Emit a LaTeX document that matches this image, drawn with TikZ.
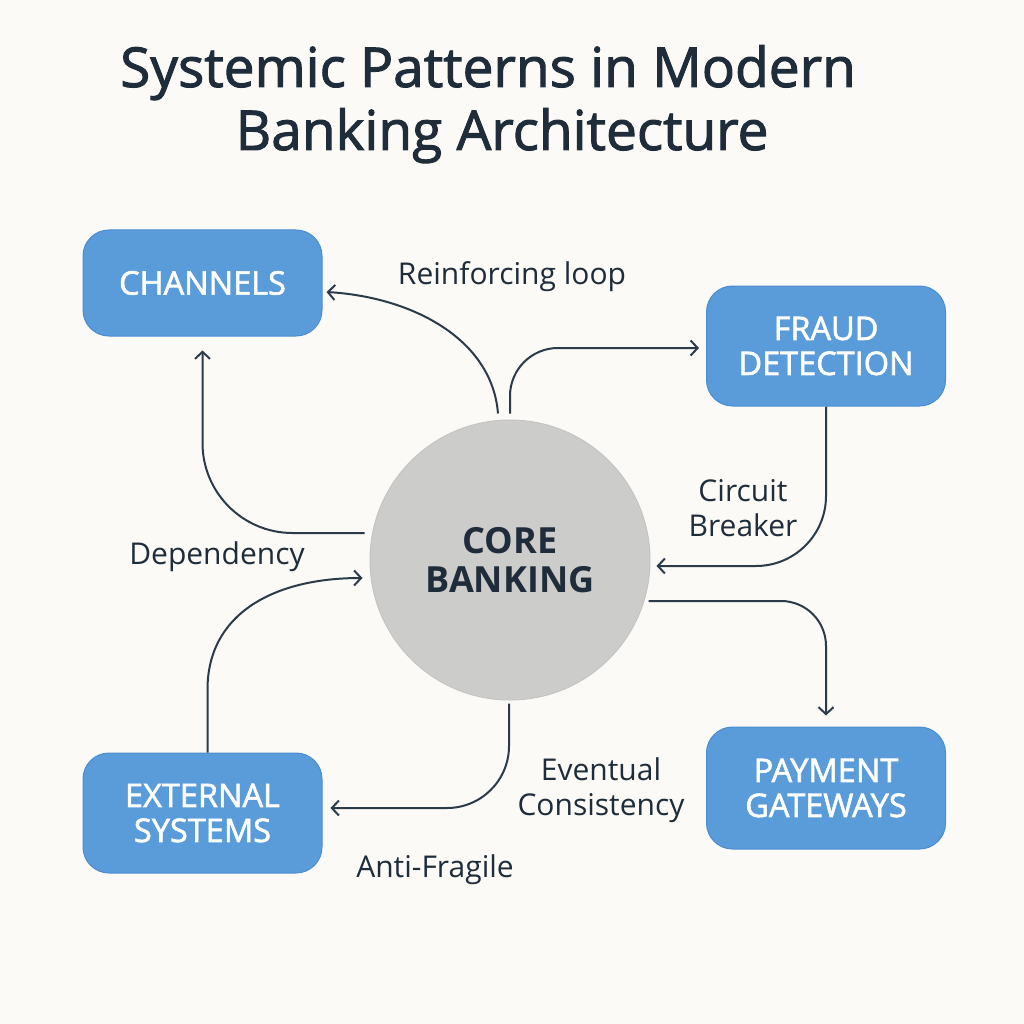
\documentclass[tikz,border=0pt]{standalone}
\usepackage{fontspec}
\setmainfont{Open Sans}
\newfontfamily\medfont{Open Sans}[FakeBold=1.8]
\newfontfamily\ttlfont{Open Sans}[FakeBold=1.8]
\usetikzlibrary{arrows.meta,calc}
\definecolor{bg}{HTML}{FBFAF6}
\definecolor{boxblue}{HTML}{5A9BDA}
\definecolor{boxedge}{HTML}{4A8DD2}
\definecolor{coregray}{HTML}{CCCCCB}
\definecolor{coreedge}{HTML}{C4C4C3}
\definecolor{ink}{HTML}{1F2D3A}
\definecolor{arrowc}{HTML}{2C3B4A}
\tikzset{
  box/.style={draw=boxedge, line width=1pt, fill=boxblue, rounded corners=26pt,
    minimum width=239pt, minimum height=120pt, align=center, text=white,
    font=\fontsize{32.5}{35}\medfont},
  corenode/.style={circle, draw=coreedge, line width=1pt, fill=coregray, minimum size=280pt,
    align=center, text=ink, font=\fontsize{36}{39}\selectfont\bfseries},
  lbl/.style={text=ink, align=center, font=\fontsize{30}{35}\selectfont},
  ttl/.style={text=ink, font=\fontsize{55}{63}\ttlfont},
  arr/.style={draw=arrowc, line width=2pt, -{Straight Barb[length=7pt,width=15pt]}}
}
\begin{document}
\begin{tikzpicture}[x=1pt,y=-1pt]
\fill[bg] (0,0) rectangle (1024,1024);
\useasboundingbox (0,0) rectangle (1024,1024);

\node[ttl, anchor=base] (t1) at (488,87) {Systemic Patterns in Modern};
\node[ttl, anchor=base] (t2) at (502,150) {Banking Architecture};

\node[box, minimum height=106pt] (ch) at (202.5,283) {CHANNELS};
\node[box] (fr) at (826,346) {FRAUD\\DETECTION};
\node[box] (ex) at (202.5,813) {EXTERNAL\\SYSTEMS};
\node[box, minimum height=122pt] (pg) at (826,788) {PAYMENT\\GATEWAYS};
\node[corenode] (cb) at (510,560) {CORE\\BANKING};

\node[lbl] (l1) at (512,277) {Reinforcing loop};
\node[lbl] (l2) at (743,508) {Circuit\\Breaker};
\node[lbl] (l3) at (217,557) {Dependency};
\node[lbl] (l4) at (601,790) {Eventual\\Consistency};
\node[lbl] (l5) at (435,870) {Anti-Fragile};

% 1 core -> channels
\coordinate (a1s) at ($(cb.north)+(-12,-6)$);
\coordinate (a1e) at ($(ch.east)+(4,9)$);
\draw[arr] (a1s) .. controls ($(a1s)+(-6,-75)$) and ($(a1e)+(85,5)$) .. (a1e);
% 2 core -> fraud
\coordinate (a2s) at ($(cb.north)+(0,-6)$);
\coordinate (a2e) at ($(fr.west)+(-7,2)$);
\draw[arr, rounded corners=48pt] (a2s) |- (a2e);
% 3 fraud -> core
\coordinate (a3e) at ($(cb.east)+(6,6)$);
\draw[arr, rounded corners=70pt] (fr.south) |- (a3e);
% 4 core -> payment
\coordinate (a4s) at ($(cb.east)+(-2,41)$);
\coordinate (a4e) at ($(pg.north)+(0,-11)$);
\draw[arr, rounded corners=45pt] (a4s) -| (a4e);
% 5 core -> external
\coordinate (a5s) at ($(cb.south)+(-1,3)$);
\coordinate (a5e) at ($(ex.east)+(8,-5)$);
\draw[arr, rounded corners=62pt] (a5s) |- (a5e);
% 6 external -> core
\coordinate (a6s) at ($(ex.north)+(5,0)$);
\coordinate (a6m) at ($(ex.north)+(5,-63)$);
\coordinate (a6e) at ($(cb.west)+(-7,18)$);
\draw[arr] (a6s) -- (a6m) .. controls ($(a6m)+(0,-75)$) and ($(a6e)+(-90,0)$) .. (a6e);
% 7 core -> channels
\coordinate (a7s) at ($(cb.west)+(-5,-27)$);
\coordinate (a7e) at ($(ch.south)+(0,14)$);
\draw[arr, rounded corners=90pt] (a7s) -| (a7e);
\end{tikzpicture}
\end{document}
